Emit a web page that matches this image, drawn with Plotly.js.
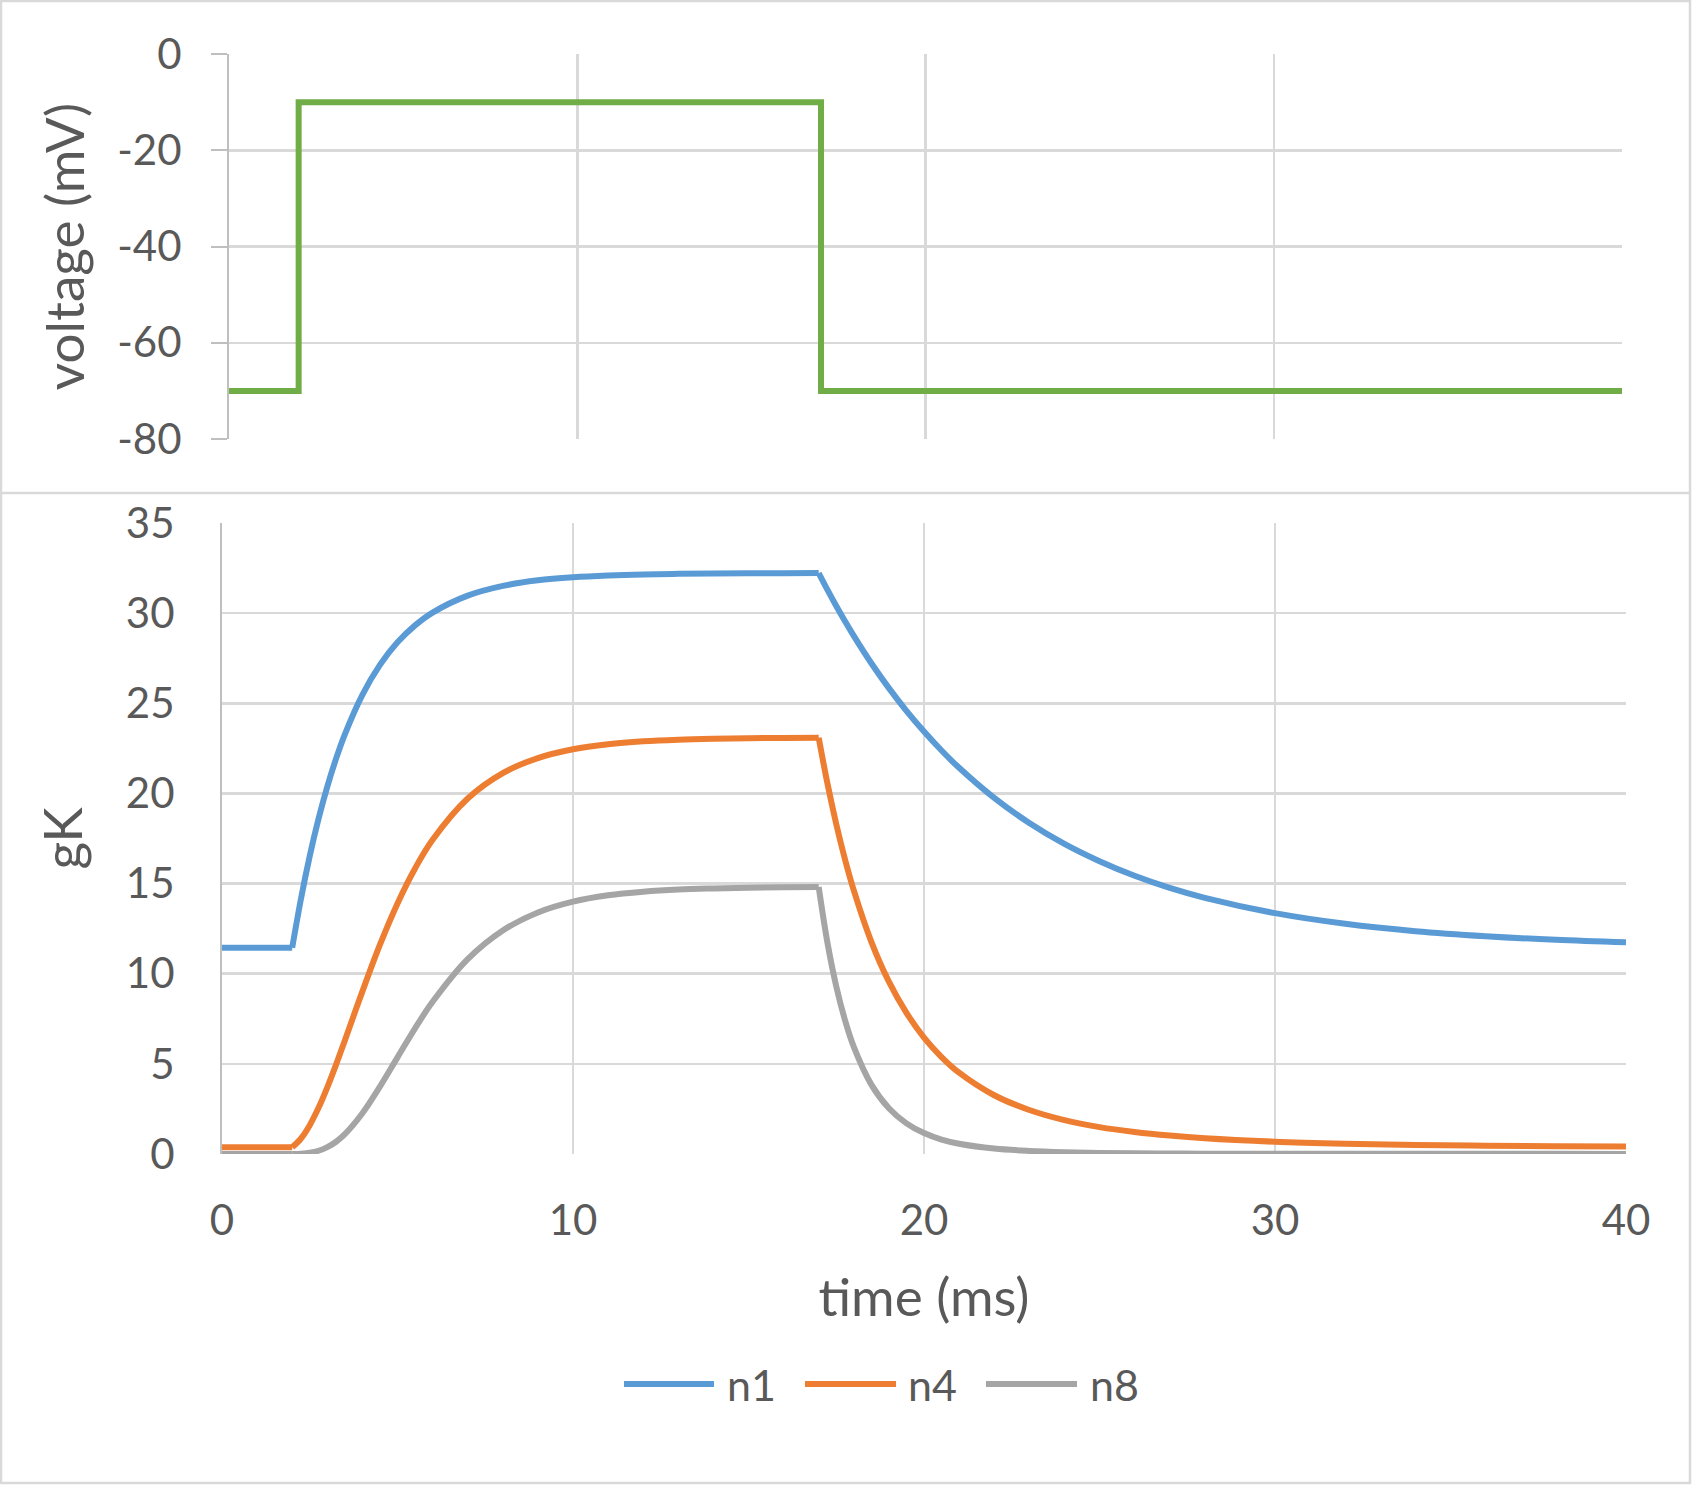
<!DOCTYPE html>
<html>
<head>
<meta charset="utf-8">
<script src="https://cdn.plot.ly/plotly-3.0.1.min.js"></script>
<style>
  html, body { margin: 0; padding: 0; background: #fff; }
  #chart { width: 1692px; height: 1485px; }
</style>
</head>
<body>
<div id="chart"></div>
<script>
// Voltage-clamp command step (mV)
const stepTime = [0, 2, 2, 17, 17, 40];
const stepVoltage = [-70, -70, -10, -10, -70, -70];

// Potassium conductance gK for gating exponents 1, 4 and 8
const seriesNames = ['n1', 'n4', 'n8'];

// holding period, depolarising step, and return to rest (ms)
const holdTime = [0, 2];
const riseTime = [2, 2.25, 2.5, 2.75, 3, 3.25, 3.5, 4, 4.5, 5, 5.5, 6, 7, 8, 9, 10, 11, 12, 13, 14, 15, 16, 17];
const decayTime = [17, 17.25, 17.5, 17.75, 18, 18.5, 19, 19.5, 20, 20.5, 21, 22, 23, 24, 25, 26, 27, 28, 30, 32, 34, 36, 38, 40];

const n1Hold = [11.44, 11.44];
const n1Rise = [11.44, 14.16, 16.53, 18.59, 20.38, 21.93, 23.28, 25.47, 27.13, 28.38, 29.32, 30.03, 30.97, 31.51, 31.82, 31.99, 32.09, 32.15, 32.18, 32.20, 32.21, 32.21, 32.22];
const n1Decay = [32.22, 31.29, 30.40, 29.55, 28.74, 27.22, 25.84, 24.58, 23.43, 22.38, 21.42, 19.75, 18.36, 17.20, 16.24, 15.43, 14.76, 14.21, 13.36, 12.77, 12.36, 12.08, 11.88, 11.74];

const n4Hold = [0.37, 0.37];
const n4Rise = [0.37, 0.86, 1.60, 2.56, 3.70, 4.96, 6.30, 9.02, 11.61, 13.90, 15.84, 17.43, 19.72, 21.13, 21.96, 22.45, 22.73, 22.89, 22.98, 23.03, 23.06, 23.08, 23.09];
const n4Decay = [23.09, 20.54, 18.30, 16.34, 14.62, 11.77, 9.56, 7.83, 6.46, 5.38, 4.51, 3.26, 2.44, 1.88, 1.49, 1.22, 1.02, 0.87, 0.68, 0.57, 0.50, 0.46, 0.43, 0.41];

const n8Hold = [0.00, 0.00];
const n8Rise = [0.00, 0.02, 0.07, 0.18, 0.38, 0.68, 1.10, 2.26, 3.74, 5.36, 6.97, 8.44, 10.81, 12.40, 13.40, 14.00, 14.35, 14.55, 14.67, 14.73, 14.77, 14.80, 14.81];
const n8Decay = [14.81, 11.71, 9.30, 7.42, 5.94, 3.85, 2.54, 1.70, 1.16, 0.80, 0.57, 0.30, 0.17, 0.10, 0.06, 0.04, 0.03, 0.02, 0.01, 0.01, 0.01, 0.01, 0.01, 0.00];

const timeTicks = [0, 10, 20, 30, 40];
const voltageTicks = [-80, -60, -40, -20, 0];
const voltageTickText = ['-80', '-60', '-40', '-20', '0'];
const gkTicks = [0, 5, 10, 15, 20, 25, 30, 35];

// ---- styling ----
const W = 1692, H = 1485;
const px = v => v / W;            // horizontal pixel -> paper
const py = v => 1 - v / H;        // vertical pixel (from top) -> paper
const FONT = 'Lato, "Open Sans", sans-serif';
const TEXT = '#595959';
const GRID = '#D9D9D9';
const AXIS = '#BFBFBF';
const LW = 6;
const GW = 2.5;
const seriesColors = ['#5B9BD5', '#ED7D31', '#A5A5A5'];
const holds = [n1Hold, n4Hold, n8Hold];
const rises = [n1Rise, n4Rise, n8Rise];
const decays = [n1Decay, n4Decay, n8Decay];

const traces = [{
  x: stepTime, y: stepVoltage, xaxis: 'x', yaxis: 'y',
  type: 'scatter', mode: 'lines', name: 'voltage', showlegend: false,
  line: { color: '#70AD47', width: LW }, hoverinfo: 'x+y'
}];

seriesNames.forEach((name, i) => {
  const base = { xaxis: 'x2', yaxis: 'y2', type: 'scatter', mode: 'lines', name: name, showlegend: false };
  traces.push(Object.assign({}, base, { x: holdTime, y: holds[i], line: { color: seriesColors[i], width: LW } }));
  traces.push(Object.assign({}, base, { x: riseTime, y: rises[i], line: { color: seriesColors[i], width: LW, shape: 'spline', smoothing: 1 } }));
  traces.push(Object.assign({}, base, { x: decayTime, y: decays[i], line: { color: seriesColors[i], width: LW, shape: 'spline', smoothing: 1 } }));
});

const tickFont = { family: FONT, size: 42, color: TEXT };
const titleFont = { family: FONT, size: 53, color: TEXT };

// legend drawn as line samples + labels below the lower panel
const legendLines = [[624, 714], [805, 896], [986, 1077]];
const legendTextX = [725, 906, 1088];
const legendY = 1384;

const shapes = [
  { type: 'rect', xref: 'paper', yref: 'paper', x0: px(1), x1: px(1690), y0: py(1483), y1: py(1),
    line: { color: GRID, width: 2.5 }, fillcolor: 'rgba(0,0,0,0)', layer: 'below' },
  { type: 'line', xref: 'paper', yref: 'paper', x0: px(1), x1: px(1690), y0: py(493), y1: py(493),
    line: { color: GRID, width: 2.5 }, layer: 'below' }
];
const annotations = [];
seriesNames.forEach((name, i) => {
  shapes.push({ type: 'line', xref: 'paper', yref: 'paper',
    x0: px(legendLines[i][0]), x1: px(legendLines[i][1]), y0: py(legendY), y1: py(legendY),
    line: { color: seriesColors[i], width: LW } });
  annotations.push({ xref: 'paper', yref: 'paper', x: px(legendTextX[i]), y: py(legendY),
    xanchor: 'left', yanchor: 'middle', showarrow: false, text: name,
    font: { family: FONT, size: 43, color: TEXT } });
});

const layout = {
  width: W, height: H,
  margin: { l: 0, r: 0, t: 0, b: 0 },
  paper_bgcolor: '#ffffff', plot_bgcolor: '#ffffff',
  showlegend: false,
  xaxis: {
    domain: [px(229), px(1622)], anchor: 'y', range: [0, 40],
    tickvals: timeTicks, showticklabels: false, ticks: '',
    showgrid: true, gridcolor: GRID, gridwidth: GW, zeroline: false, showline: false,
    fixedrange: true
  },
  yaxis: {
    domain: [py(439), py(54)], anchor: 'x', range: [-80, 0],
    tickvals: voltageTicks, ticktext: voltageTickText,
    ticks: 'outside', ticklen: 16, tickwidth: 2, tickcolor: AXIS,
    ticklabelstandoff: 21,
    showgrid: true, gridcolor: GRID, gridwidth: GW, zeroline: false,
    showline: true, linecolor: AXIS, linewidth: 2,
    tickfont: tickFont,
    title: { text: 'voltage (mV)', font: titleFont, standoff: 16 },
    fixedrange: true
  },
  xaxis2: {
    domain: [px(222), px(1626)], anchor: 'y2', range: [0, 40],
    tickvals: timeTicks, ticks: '', ticklabelstandoff: 38,
    showgrid: true, gridcolor: GRID, gridwidth: GW, zeroline: false, showline: false,
    tickfont: tickFont,
    title: { text: 'time (ms)', font: titleFont, standoff: 35 },
    fixedrange: true
  },
  yaxis2: {
    domain: [py(1154), py(523)], anchor: 'x2', range: [0, 35],
    tickvals: gkTicks, ticks: '', ticklabelstandoff: 37,
    showgrid: true, gridcolor: GRID, gridwidth: GW, zeroline: false,
    showline: true, linecolor: AXIS, linewidth: 2,
    tickfont: tickFont,
    title: { text: 'gK', font: titleFont, standoff: 26 },
    fixedrange: true
  },
  shapes: shapes,
  annotations: annotations
};

Plotly.newPlot('chart', traces, layout, { displayModeBar: false, staticPlot: true });
</script>
</body>
</html>
